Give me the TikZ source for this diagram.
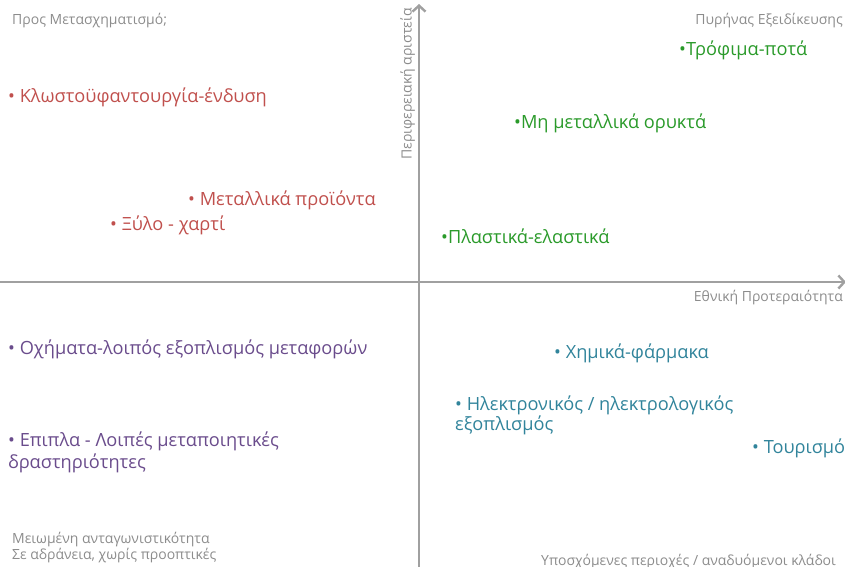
\documentclass[tikz,border=0pt]{standalone}
\usepackage{fontspec}
\setmainfont{Open Sans}
\usetikzlibrary{arrows.meta}
\definecolor{axisgray}{HTML}{A0A0A0}
\definecolor{labgray}{HTML}{8C8C8C}
\definecolor{cred}{HTML}{C0504D}
\definecolor{cgreen}{HTML}{2A9A2A}
\definecolor{cpurple}{HTML}{6A4C8C}
\definecolor{cteal}{HTML}{31849B}
\begin{document}
\begin{tikzpicture}[x=1pt,y=-1pt,
  axis/.style={draw=axisgray,line width=2.6pt,-{Straight Barb[length=6pt,width=13pt,line width=2.4pt]}},
  corner/.style={inner sep=0pt,text=labgray,font=\fontsize{14}{15.5}\selectfont,align=left},
  item/.style={inner sep=0pt,font=\fontsize{18.2}{22}\selectfont,align=left,anchor=mid west},
  redi/.style={item,text=cred},
  greeni/.style={item,text=cgreen},
  purpi/.style={item,text=cpurple},
  teali/.style={item,text=cteal}]
\useasboundingbox (0,0) rectangle (845,566);
% axes
\coordinate (xs) at (0,282);
\coordinate (xe) at (846,282);
\coordinate (ys) at (419,570);
\coordinate (ye) at (419,4);
\draw[axis] (xs) -- (xe);
\draw[axis] (ys) -- (ye);
% corner labels
\node[corner,anchor=mid west] (tl) at (12,22) {Προς Μετασχηματισμό;};
\node[corner,anchor=mid east] (tr) at (843,22) {Πυρήνας Εξειδίκευσης};
\node[corner,anchor=mid east] (xl) at (843,299) {Εθνική Προτεραιότητα};
\node[corner,anchor=mid east,rotate=90] (yl) at (409,8) {Περιφερειακή αριστεία};
\node[corner,anchor=north west] (bl) at (12,532) {Μειωμένη ανταγωνιστικότητα\\Σε αδράνεια, χωρίς προοπτικές};
\node[corner,anchor=mid west] (br) at (541,563) {Υποσχόμενες περιοχές / αναδυόμενοι κλάδοι};
% red
\node[redi] (r1) at (8,99.5) {• Κλωστοϋφαντουργία-ένδυση};
\node[redi] (r2) at (188,202.5) {• Μεταλλικά προϊόντα};
\node[redi] (r3) at (110,227.5) {• Ξύλο - χαρτί};
% green
\node[greeni] (g1) at (679,52.5) {•Τρόφιμα-ποτά};
\node[greeni] (g2) at (514,125.5) {•Μη μεταλλικά ορυκτά};
\node[greeni] (g3) at (441,240.5) {•Πλαστικά-ελαστικά};
% purple
\node[purpi] (p1) at (8,351.5) {• Οχήματα-λοιπός εξοπλισμός μεταφορών};
\node[purpi,anchor=north west] (p2) at (8,432) {• Επιπλα - Λοιπές μεταποιητικές\\δραστηριότητες};
% teal
\node[teali] (t1) at (554,355.5) {• Χημικά-φάρμακα};
\node[teali,anchor=north west,font=\fontsize{18.2}{20}\selectfont] (t2) at (455,396) {• Ηλεκτρονικός / ηλεκτρολογικός\\εξοπλισμός};
\node[teali] (t3) at (752,450.5) {• Τουρισμός};
\end{tikzpicture}
\end{document}
